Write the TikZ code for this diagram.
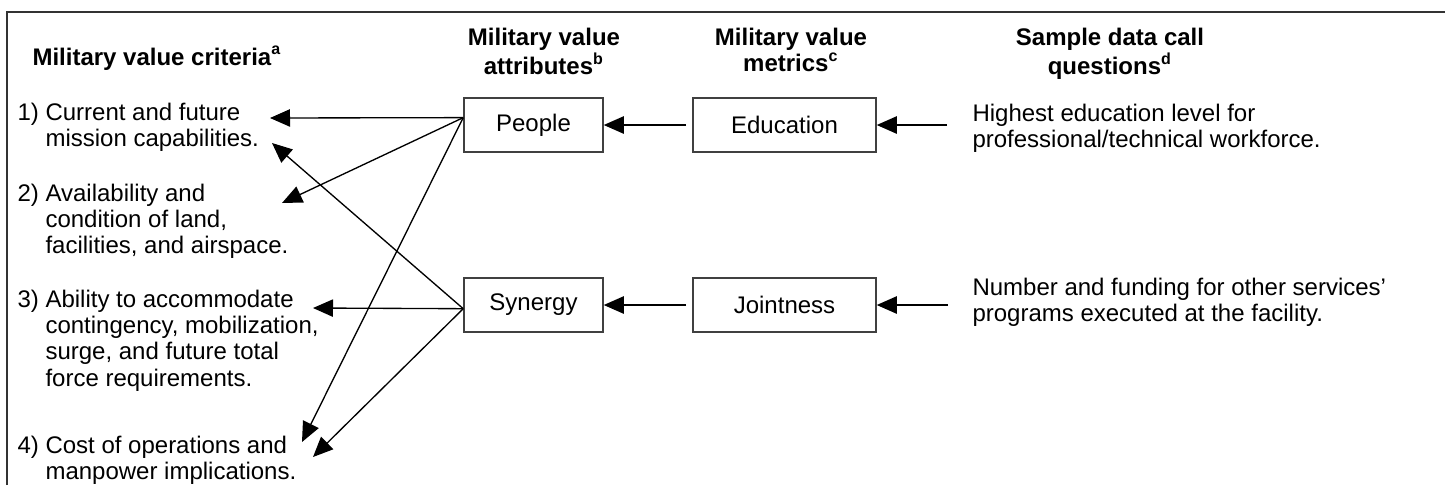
\documentclass[tikz,border=0pt]{standalone}
\usepackage{fontspec}
\setmainfont{Liberation Sans}
\usetikzlibrary{arrows.meta}
\newcommand{\hdtext}[1]{\begin{tabular}[t]{@{}c@{}}#1\end{tabular}}
\newcommand{\qtext}[1]{\begin{tabular}[t]{@{}l@{}}#1\end{tabular}}
\newcommand{\crtext}[1]{\begin{tabular}[t]{@{}l@{\ }l@{}}#1\end{tabular}}

\begin{document}
\begin{tikzpicture}[x=0.375pt,y=-0.375pt,
  font=\fontsize{9}{9.9}\selectfont,
  box/.style={draw=black!75,line width=0.6pt,minimum height=20.25pt,inner sep=0pt},
  arr/.style={-{Triangle[length=7.5pt,width=6.5pt]},line width=0.5pt},
  txt/.style={inner sep=0pt,anchor=base west},
  head/.style={inner sep=0pt,anchor=base,font=\fontsize{9}{9.9}\selectfont\bfseries}]
\useasboundingbox (0,0) rectangle (1445,485);
\draw[line width=0.55pt,black!80](7,485) -- (7,12) -- (1445,12);

\node[head,anchor=base west] (hcrit) at (32,65) {Military value criteria\textsuperscript{a}};
\node[head] (hattr) at (544,45) {\hdtext{Military value\\attributes\textsuperscript{b}}};
\node[head] (hmetr) at (791,45) {\hdtext{Military value\\metrics\textsuperscript{c}}};
\node[head] (hques) at (1110,45) {\hdtext{Sample data call\\questions\textsuperscript{d}}};

\node[txt] (crit1) at (17,120) {\crtext{1)&Current and future\\&mission capabilities.}};
\node[txt] (crit2) at (17,201) {\crtext{2)&Availability and\\&condition of land,\\&facilities, and airspace.}};
\node[txt] (crit3) at (17,307) {\crtext{3)&Ability to accommodate\\&contingency, mobilization,\\&surge, and future total\\&force requirements.}};
\node[txt] (crit4) at (17,453) {\crtext{4)&Cost of operations and\\&manpower implications.}};

\node[box,minimum width=52.1pt] (people) at (533.5,125) {People};
\node[box,minimum width=52.1pt] (synergy) at (533.5,305) {Synergy};
\node[box,minimum width=68.6pt] (edu) at (784.5,125) {Education};
\node[box,minimum width=68.6pt] (joint) at (784.5,305) {Jointness};

\node[txt] (q1) at (972,121) {\qtext{Highest education level for\\professional/technical workforce.}};
\node[txt] (q2) at (972,295) {\qtext{Number and funding for other services'\\programs executed at the facility.}};

\coordinate (q1end) at (947,125);
\coordinate (q2end) at (948,305);
\draw[arr] (q1end) -- (edu.east);
\draw[arr] (q2end) -- (joint.east);
\draw[arr] ([xshift=-2.25pt]edu.west) -- (people.east);
\draw[arr] ([xshift=-2.25pt]joint.west) -- (synergy.east);

\coordinate (c1a) at (270,118);
\coordinate (c1b) at (272,143);
\coordinate (c2a) at (282,203);
\coordinate (c3a) at (313,308);
\coordinate (c4a) at (302,442);
\coordinate (c4b) at (313,457);
\draw[arr] (people.174) -- (c1a);
\draw[arr] (people.174) -- (c2a);
\draw[arr] (people.174) -- (c4a);
\draw[arr] (synergy.183) -- (c1b);
\draw[arr] (synergy.183) -- (c3a);
\draw[arr] (synergy.183) -- (c4b);
\end{tikzpicture}
\end{document}
